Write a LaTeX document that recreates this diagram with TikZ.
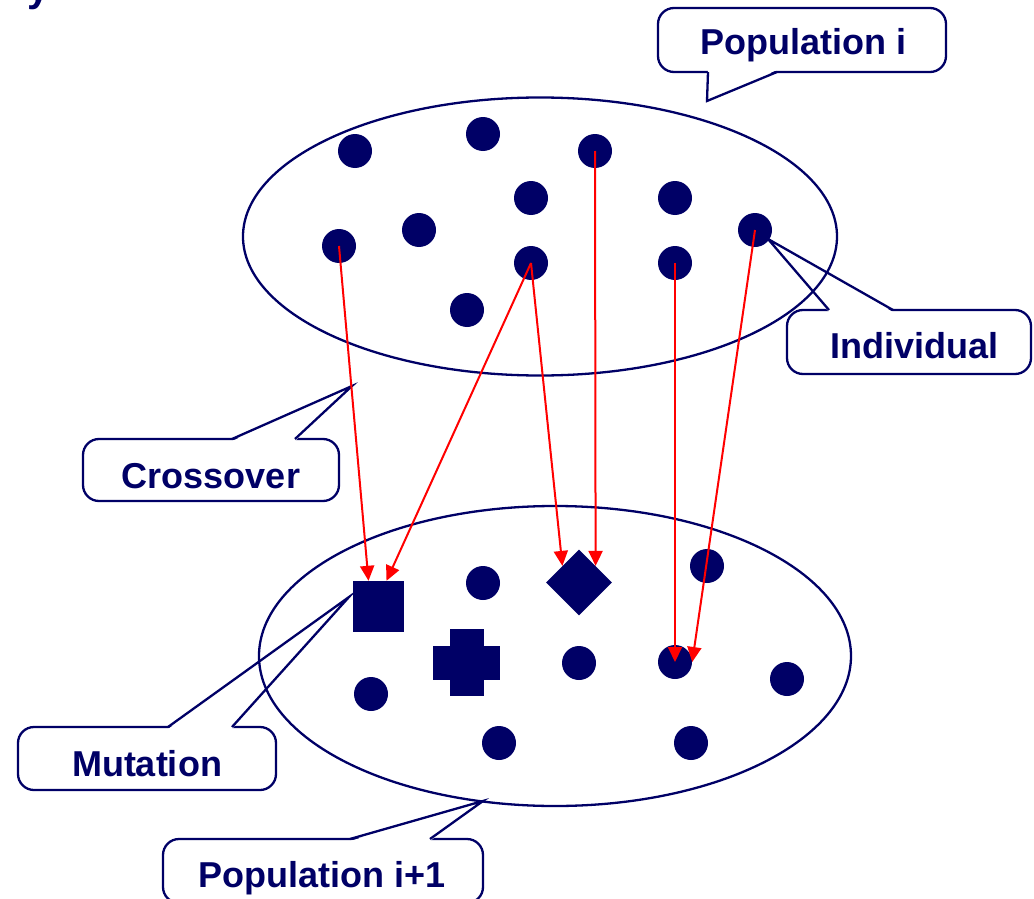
\documentclass[tikz,border=0pt]{standalone}
\usepackage{fontspec}
\setmainfont{Liberation Sans}
\usetikzlibrary{arrows.meta,shapes.geometric,calc}
\definecolor{navy}{RGB}{0,0,102}
\definecolor{arrowred}{RGB}{255,0,0}

% pointer of a callout: base point, tip, base point, inward shift
\newcommand\calloutptr[4]{%
  \fill[white] ($(#1)+(#4)$) -- (#2) -- ($(#3)+(#4)$) -- cycle;
  \draw[callline] (#1) -- (#2) -- (#3);}

\begin{document}
\begin{tikzpicture}[x=1pt,y=-1pt,
  dot/.style={circle,fill=navy,inner sep=0pt,minimum size=34pt},
  pop/.style={draw=navy,line width=2.3pt},
  flow/.style={draw=arrowred,line width=2pt,-{Triangle[length=15pt,width=14pt]}},
  callline/.style={draw=navy,line width=2.3pt,line join=miter},
  callbox/.style={draw=navy,line width=2.3pt,rounded corners=16pt,fill=white,inner sep=0pt},
  tag/.style={text=navy,font=\fontsize{36}{40}\selectfont\bfseries,anchor=base,inner sep=0pt},
]
\useasboundingbox (0,0) rectangle (1034,899);

% tail of a title glyph cut by the top edge
\node[tag,anchor=base west,font=\fontsize{40}{44}\selectfont\bfseries] (titleTail) at (27,1.5) {y};

% callouts
\node[callbox,minimum width=288pt,minimum height=64pt] (popiBox) at (802,40) {};
\coordinate (popiA) at (708,72);
\coordinate (popiTip) at (707,101);
\coordinate (popiB) at (777,72);
\calloutptr{popiA}{popiTip}{popiB}{0,-2}
\node[tag] (popiText) at (803,55) {Population i};

\node[callbox,minimum width=244pt,minimum height=64pt] (indBox) at (909,342) {};
\coordinate (indA) at (829,310);
\coordinate (indTip) at (768,239);
\coordinate (indB) at (893,310);
\calloutptr{indA}{indTip}{indB}{0,2}
\node[tag] (indText) at (914,358) {Individual};

\node[callbox,minimum width=256pt,minimum height=62pt] (crossBox) at (211,470) {};
\coordinate (crossA) at (232,439);
\coordinate (crossTip) at (352,386);
\coordinate (crossB) at (295,439);
\calloutptr{crossA}{crossTip}{crossB}{0,2}
\node[tag] (crossText) at (211,488) {Crossover};

\node[callbox,minimum width=258pt,minimum height=63pt] (mutBox) at (147,758.5) {};
\coordinate (mutA) at (168,727);
\coordinate (mutTip) at (349,597);
\coordinate (mutB) at (232,727);
\calloutptr{mutA}{mutTip}{mutB}{0,2}
\node[tag] (mutText) at (147,776) {Mutation};

\node[callbox,minimum width=320pt,minimum height=64pt] (popjBox) at (323,871) {};
\coordinate (popjA) at (350,839);
\coordinate (popjTip) at (483,801);
\coordinate (popjB) at (430,839);
\calloutptr{popjA}{popjTip}{popjB}{0,2}
\node[tag] (popjText) at (322,887) {Population i+1};

% the two populations
\node[pop,ellipse,inner sep=0pt,minimum width=594pt,minimum height=278pt] (popTop) at (540,236.5) {};
\node[pop,ellipse,inner sep=0pt,minimum width=592pt,minimum height=300pt] (popBot) at (555,656) {};

% individuals of population i
\node[dot] (t1) at (355,151) {};
\node[dot] (t2) at (483,134) {};
\node[dot] (t3) at (595,151) {};
\node[dot] (t4) at (531,198) {};
\node[dot] (t5) at (675,198) {};
\node[dot] (t6) at (419,230) {};
\node[dot] (t7) at (339,246) {};
\node[dot] (t8) at (531,263) {};
\node[dot] (t9) at (675,263) {};
\node[dot] (t10) at (755,230) {};
\node[dot] (t11) at (467,310) {};

% individuals of population i+1
\node[dot] (b1) at (483,583) {};
\node[dot] (b2) at (707,566) {};
\node[dot] (b3) at (579,663) {};
\node[dot] (b4) at (371,694) {};
\node[dot] (b5) at (675,662) {};
\node[dot] (b6) at (787,679) {};
\node[dot] (b7) at (499,743) {};
\node[dot] (b8) at (691,743) {};
\node[fill=navy,inner sep=0pt,minimum size=51pt] (sq) at (378.5,606.5) {};
\node[diamond,fill=navy,inner sep=0pt,minimum width=66pt,minimum height=66pt] (dia) at (579,582.5) {};
\fill[navy] (449.5,629) rectangle (483.5,696);
\fill[navy] (433,646) rectangle (500,680);

% offspring links
\draw[flow] (t7.center) -- ($(sq.north)+(-10,0)$);
\draw[flow] (t8.center) -- ($(sq.north)+(8,0)$);
\draw[flow] (t8.center) -- (dia.north west);
\draw[flow] (t3.center) -- (dia.north east);
\draw[flow] (t9.center) -- (b5.center);
\draw[flow] (t10.center) -- (b5.east);
\end{tikzpicture}
\end{document}
